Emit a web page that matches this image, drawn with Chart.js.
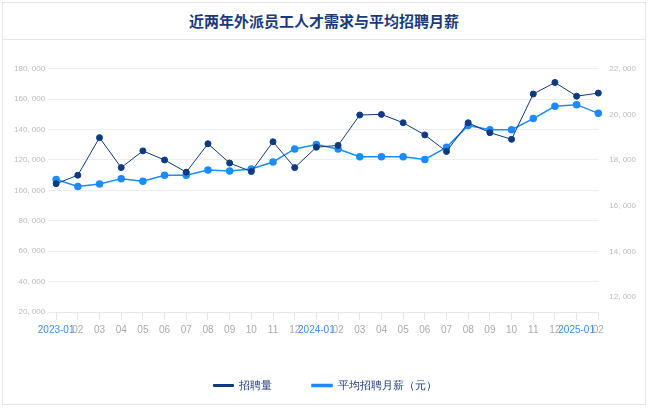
<!DOCTYPE html>
<html><head><meta charset="utf-8">
<script src="https://cdn.jsdelivr.net/npm/chart.js@4/dist/chart.umd.min.js"></script>
<style>
body{margin:0;background:#fff;font-family:"Noto Sans CJK SC",sans-serif}
.card{position:absolute;left:2px;top:2px;width:644px;height:403px;border:1px solid #e6e6e6;box-sizing:border-box}
.title{height:36px;border-bottom:1px solid #e6e6e6;text-align:center;line-height:36px;font-size:15px;font-weight:bold;color:#1a3a7a}
.wrap{position:absolute;left:0;top:58px;width:642px;height:340px}
</style></head><body>
<div class="card"><div class="title">近两年外派员工人才需求与平均招聘月薪</div>
<div class="wrap"><canvas id="c"></canvas></div></div>
<script>
const labels = ['2023-01','02','03','04','05','06','07','08','09','10','11','12','2024-01','02','03','04','05','06','07','08','09','10','11','12','2025-01','02'];
const hires = [104400,110000,134700,115000,126000,120000,112000,130700,118000,112400,132000,115000,128400,129600,149600,150000,144500,136500,125600,144500,138000,133600,163400,171000,162000,164000];
const salary = [17150,16850,16960,17190,17080,17340,17340,17570,17530,17610,17920,18490,18680,18490,18150,18150,18150,18030,18560,19520,19330,19330,19820,20360,20430,20050];
const rightTicks = [12000,14000,16000,18000,20000,22000];
const fmt = v => v.toLocaleString('en-US').replace(',', ', ');
new Chart(document.getElementById('c'), {
  type: 'line',
  data: { labels, datasets: [
    { label:'招聘量', data:hires, yAxisID:'y', borderColor:'#0d3a80', backgroundColor:'#0d3a80', borderWidth:1, pointRadius:3, tension:0 },
    { label:'平均招聘月薪（元）', data:salary, yAxisID:'y1', borderColor:'#1a8cff', backgroundColor:'#1a8cff', borderWidth:1.5, pointRadius:3, tension:0 }
  ]},
  options: {
    responsive:true, maintainAspectRatio:false, animation:false,
    layout:{padding:{left:8,right:6,top:0,bottom:0}},
    plugins:{ legend:{ position:'bottom', labels:{ boxWidth:20, boxHeight:2, color:'#1a3a7a', font:{size:11}, padding:40 } } },
    scales:{
      x:{ grid:{display:true, drawOnChartArea:false, tickLength:8, color:'#e6e6e6'}, border:{color:'#e6e6e6'},
          ticks:{ autoSkip:false, maxRotation:0, font:{size:10}, padding:4,
                  color: c => labels[c.index].length > 2 ? '#3a8ee6' : '#aaa' } },
      y:{ min:20000, max:180000, grid:{color:'#eeeeee'}, border:{display:false},
          ticks:{ stepSize:20000, color:'#bbb', font:{size:8}, callback:v=>fmt(v) } },
      y1:{ position:'right', min:11350, max:22000, grid:{display:false}, border:{display:false},
           afterBuildTicks: a => { a.ticks = rightTicks.map(v => ({value:v})); },
           ticks:{ color:'#bbb', font:{size:8}, callback:v=>fmt(v) } }
    }
  }
});
</script></body></html>
